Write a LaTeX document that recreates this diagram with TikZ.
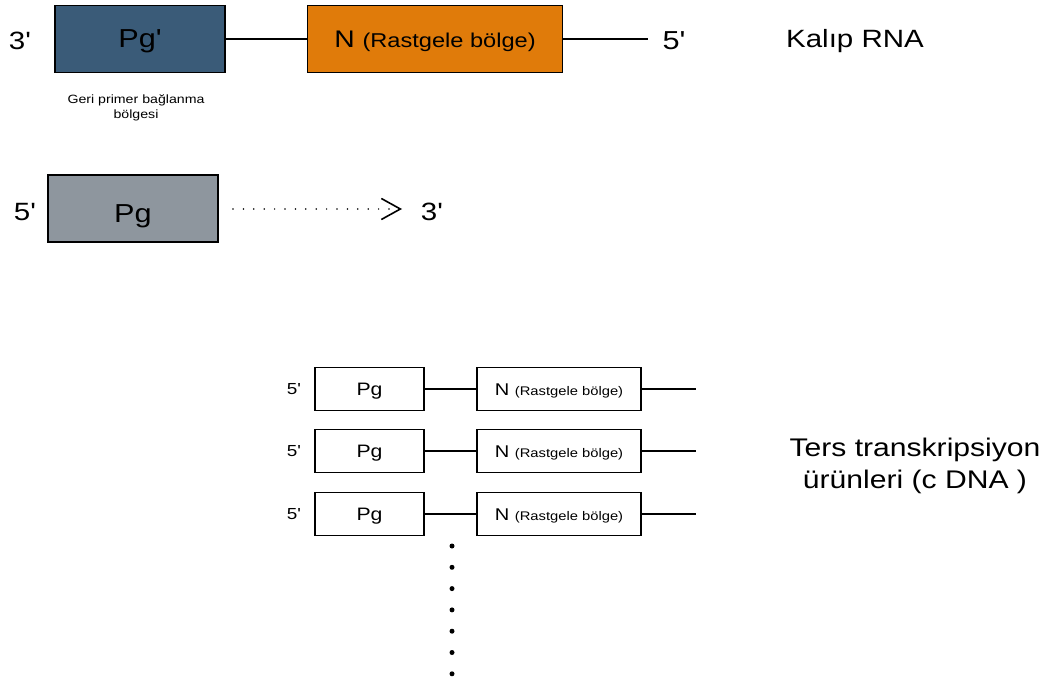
\documentclass[tikz,border=0pt]{standalone}
\usepackage{fontspec}
\setmainfont[FakeStretch=1.18,Ligatures=TeXOff]{Liberation Sans}
\usetikzlibrary{arrows.meta}
\definecolor{pgblue}{HTML}{3A5B78}
\definecolor{norange}{HTML}{E07B0A}
\definecolor{pggray}{HTML}{8E969E}
\newcommand{\fs}[1]{\fontsize{#1}{#1}\selectfont}

\begin{document}
\begin{tikzpicture}[x=1pt,y=-1pt,
  bigbox/.style={draw,line width=1.8pt,minimum height=67pt,inner sep=0pt,
                 text height=21pt,text depth=3pt},
  rowbox/.style={draw,line width=1.5pt,minimum height=43pt,inner sep=0pt,fill=white,
                 text height=14pt,text depth=2pt},
  strand/.style={line width=1.4pt}]
\useasboundingbox (0,0) rectangle (1049,682);
%%% template RNA %%%

  \node (Pgt) at (140,39) [bigbox,fill=pgblue,minimum width=170pt] {\fs{26}Pg'};
  \node (Nt) at (435,39) [bigbox,fill=norange,minimum width=255pt] {\fs{24}N \fs{20}(Rastgele bölge)};
  \coordinate (Et) at (648,39);

\draw (20,41) node {\fs{25}3'}
    (674,41) node {\fs{26}5'}
    (855,41) node {\fs{25}Kalıp RNA}
    (136,108) node [align=center] {\fs{12}Geri primer bağlanma\\[3pt]\fs{12}bölgesi};

\draw[strand]
   (Pgt) -- (Nt)
   (Nt) -- (Et);

%%% primer %%%

  \node (Pg) at (133,208.5) [bigbox,fill=pggray,minimum width=170pt,
                             text height=27pt,text depth=0pt] {\fs{26}Pg};
  \coordinate (Ds) at (233,209);
  \coordinate (Dt) at (402,209);

\draw (25,212) node {\fs{25}5'}
    (432,212) node {\fs{25}3'};

\draw[line width=1.7pt,dash pattern=on 0pt off 10.4pt,line cap=round,
      -{Straight Barb[length=19pt,width=21pt,line width=1.6pt]}]
   (Ds) -- (Dt);

%%% cDNA products %%%

\foreach \i/\y in {1/389,2/451,3/514}
{
  \node (P\i) at (369.5,\y) [rowbox,minimum width=109pt] {\fs{18}Pg};
  \node (N\i) at (559,\y) [rowbox,minimum width=164pt] {\fs{17}N \fs{12.5}(Rastgele bölge)};
  \coordinate (E\i) at (696,\y);
  \node (L\i) at (294,\y) {\fs{16}5'};
  \draw[strand] (P\i) -- (N\i) (N\i) -- (E\i);
}

\foreach \k in {0,...,6}
  \fill (452,546+21.3*\k) circle (2.5pt);

\draw (915,466) node [align=center] {\fs{25.5}Ters transkripsiyon\\[8pt]\fs{25.5}ürünleri (c DNA )};
\end{tikzpicture}
\end{document}
